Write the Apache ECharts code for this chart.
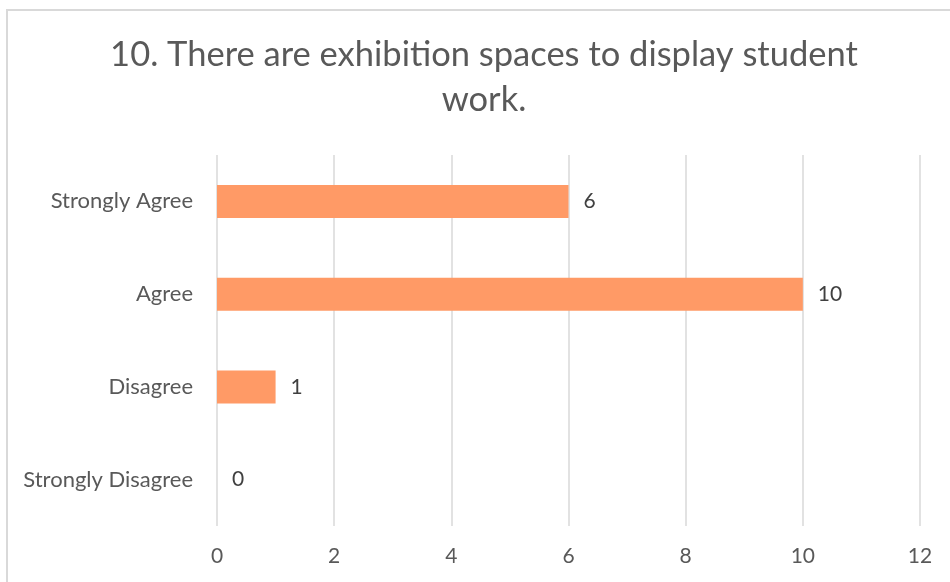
<!DOCTYPE html>
<html>
<head>
<meta charset="utf-8">
<script src="https://cdn.jsdelivr.net/npm/echarts@6/dist/echarts.min.js"></script>
<style>
  html, body { margin: 0; padding: 0; background: #ffffff; }
  #chart { width: 950px; height: 582px; }
</style>
</head>
<body>
<div id="chart"></div>
<script>
// Survey responses for statement 10
const titleText = '10. There are exhibition spaces to display student\nwork.';
const categories = ['Strongly Agree', 'Agree', 'Disagree', 'Strongly Disagree'];
const counts = [6, 10, 1, 0];
const xTicks = [0, 2, 4, 6, 8, 10, 12];

const FONT = 'Lato, "Open Sans", sans-serif';

const chart = echarts.init(document.getElementById('chart'), null, { renderer: 'canvas' });

chart.setOption({
  animation: false,
  backgroundColor: '#ffffff',
  textStyle: { fontFamily: FONT },
  title: {
    text: titleText,
    left: 479,
    top: 27,
    textAlign: 'center',
    textStyle: {
      fontFamily: FONT,
      fontSize: 34.5,
      fontWeight: 'normal',
      color: '#595959',
      lineHeight: 45
    }
  },
  graphic: [{
    type: 'rect',
    shape: { x: 7, y: 10, width: 980, height: 620 },
    style: { fill: 'none', stroke: '#d9d9d9', lineWidth: 2 },
    silent: true,
    z: 0
  }],
  grid: { left: 217, right: 30, top: 155, bottom: 56, containLabel: false },
  xAxis: {
    type: 'value',
    min: xTicks[0],
    max: xTicks[xTicks.length - 1],
    interval: xTicks[1] - xTicks[0],
    axisLine: { show: false },
    axisTick: { show: false },
    splitLine: { show: true, lineStyle: { color: '#d9d9d9', width: 1.5 } },
    axisLabel: { fontFamily: FONT, fontSize: 21, color: '#595959', margin: 20 }
  },
  yAxis: {
    type: 'category',
    data: categories,
    inverse: true,
    axisLine: { show: false },
    axisTick: { show: false },
    splitLine: { show: false },
    axisLabel: { fontFamily: FONT, fontSize: 22, color: '#595959', margin: 24 }
  },
  series: [{
    type: 'bar',
    data: counts,
    barWidth: 33,
    itemStyle: { color: '#ff9a66' },
    label: {
      show: true,
      position: 'right',
      distance: 15,
      fontFamily: FONT,
      fontSize: 21,
      color: '#404040'
    }
  }]
});
</script>
</body>
</html>
